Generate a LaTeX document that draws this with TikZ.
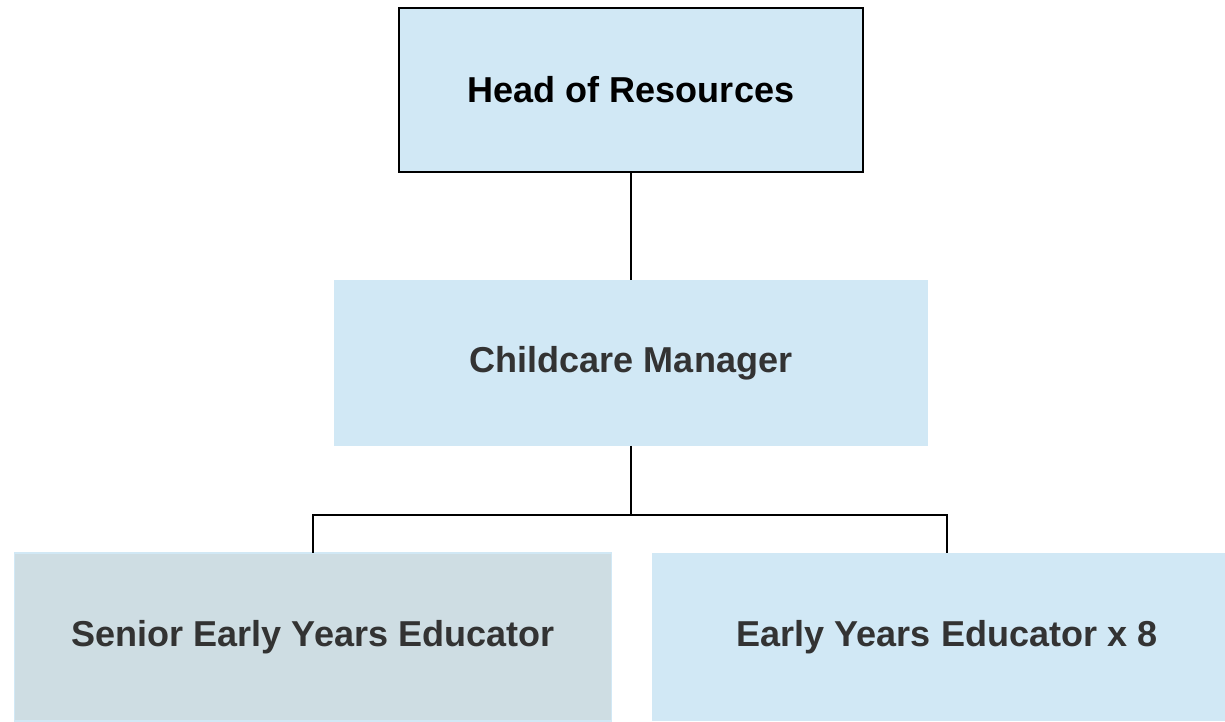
\documentclass[tikz,border=0pt]{standalone}
\usepackage{fontspec}
\setmainfont{Liberation Sans}
\usepackage{tikz}
\usetikzlibrary{positioning}

\definecolor{roleblue}{HTML}{D1E8F5}
\definecolor{rolegrey}{HTML}{CEDDE3}
\definecolor{roletext}{HTML}{333333}

\tikzset{
    role/.style={rectangle, fill=roleblue, text=roletext,
                 font=\fontsize{20.5}{24}\selectfont\bfseries,
                 inner sep=0pt, outer sep=0pt},
    link/.style={black, line width=1pt}
}

\begin{document}
\begin{tikzpicture}[x=0.02cm, y=-0.02cm]
                \clip (0,0) rectangle (1225,721);
                \fill[white] (0,0) rectangle (1225,721);

                \node[role, draw=black, line width=1.1pt, text=black,
                      minimum width=9.3cm, minimum height=3.28cm]
                      (head)   at (631,90)  {Head of Resources};

                \node[role, minimum width=11.88cm, minimum height=3.32cm]
                      (manager) at (631,363) {Childcare Manager};

                \node[role, fill=rolegrey, draw=roleblue, line width=0.6pt,
                      minimum width=11.96cm, minimum height=3.36cm]
                      (senior) at (313,637) {Senior Early Years Educator};

                \node[role, minimum width=11.8cm, minimum height=3.36cm]
                      (educator) at (947,637) {Early Years Educator x 8};

                \coordinate (bus) at (631,515);

                \draw[link] (head.south) -- (manager.north);
                \draw[link] (manager.south) -- (bus) -| (senior.north);
                \draw[link] (bus) -| (educator.north);
            \end{tikzpicture}
\end{document}
